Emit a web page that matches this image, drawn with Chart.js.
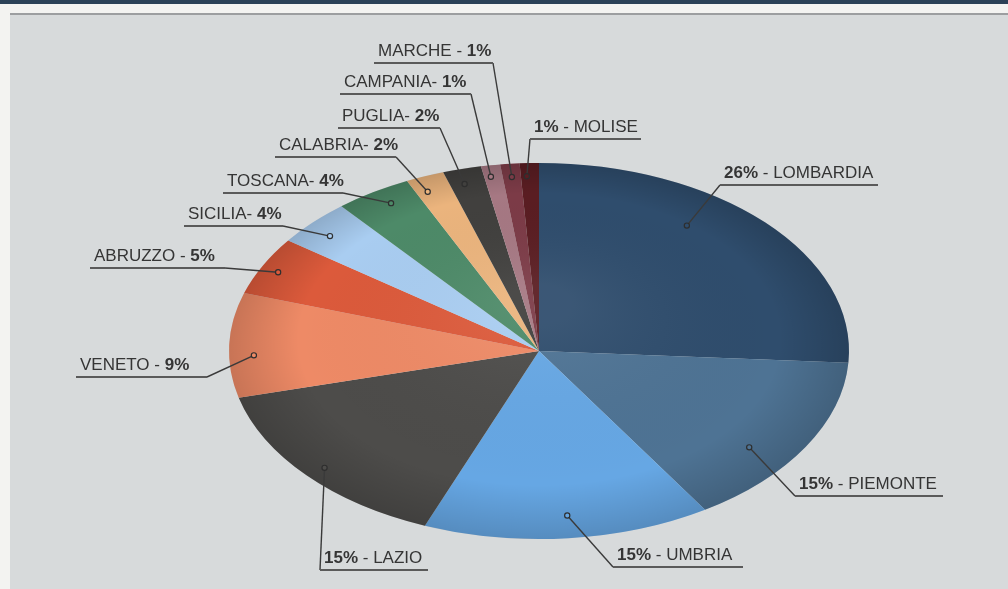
<!DOCTYPE html>
<html>
<head>
<meta charset="utf-8">
<script src="https://cdn.jsdelivr.net/npm/chart.js@4.4.1/dist/chart.umd.min.js"></script>
<style>
  html, body { margin: 0; padding: 0; background: #f3f3f1; }
  #wrap { position: relative; width: 1008px; height: 589px; overflow: hidden; background: #f3f3f1; }
  #topbar { position: absolute; left: 0; top: 0; width: 1008px; height: 4px; background: #2b4157; }
  #panel { position: absolute; left: 10px; top: 13px; right: 0; bottom: 0; background: #d7dadb; border-top: 2px solid #9c9ea0; }
  canvas { position: absolute; left: 0; top: 0; }
</style>
</head>
<body>
<div id="wrap">
  <div id="topbar"></div>
  <div id="panel"></div>
  <canvas id="pie" width="1008" height="589"></canvas>
</div>
<script>
// share of total by region (%)
const regions = ['LOMBARDIA', 'PIEMONTE', 'UMBRIA', 'LAZIO', 'VENETO', 'ABRUZZO', 'SICILIA',
                 'TOSCANA', 'CALABRIA', 'PUGLIA', 'CAMPANIA', 'MARCHE', 'MOLISE'];
const shares = [26, 15, 15, 15, 9, 5, 4, 4, 2, 2, 1, 1, 1];
const sliceColors = ['#2f4d6d', '#4e7394', '#66a7e4', '#4d4c4a', '#ee8a66', '#dc5a3b', '#a9cdf1',
                     '#4d8a68', '#ebb47d', '#41403e', '#a67883', '#7c3b47', '#5a1d22'];

// label placement: where the dot sits in the slice (t along the angle, r along the radius),
// the elbow where the leader meets the underline, the far end of the underline,
// whether the percentage comes first, and the separator used in the original
const labelLayout = [
  { t: 0.38, r: 0.82, ex: 720, ey: 185, ux: 878, pctFirst: true },
  { t: 0.62, r: 0.85, ex: 795, ey: 496, ux: 943, pctFirst: true },
  { t: 0.49, r: 0.88, ex: 613, ey: 567, ux: 743, pctFirst: true },
  { t: 0.49, r: 0.93, ex: 320, ey: 570, ux: 428, pctFirst: true },
  { t: 0.40, r: 0.92, ex: 207, ey: 377, ux: 76, sep: ' - ' },
  { t: 0.47, r: 0.94, ex: 225, ey: 268, ux: 90, sep: ' - ' },
  { t: 0.43, r: 0.91, ex: 283, ey: 226, ux: 184, sep: '- ' },
  { t: 0.58, r: 0.92, ex: 343, ey: 193, ux: 223, sep: '- ' },
  { t: 0.31, r: 0.92, ex: 396, ey: 157, ux: 275, sep: '- ' },
  { t: 0.40, r: 0.92, ex: 440, ey: 128, ux: 338, sep: '- ' },
  { t: 0.36, r: 0.94, ex: 471, ey: 94, ux: 340, sep: '- ' },
  { t: 0.50, r: 0.93, ex: 493, ey: 63, ux: 374, sep: ' - ' },
  { t: 0.33, r: 0.93, ex: 530, ey: 139, ux: 641, pctFirst: true }
];

const X_STRETCH = 310 / 188;   // the pie is drawn as a flattened ellipse
const FONT = '"Liberation Sans", Arial, Helvetica, sans-serif';

// squash the circle into an ellipse and add a little shading
const ellipsePlugin = {
  id: 'ellipse',
  beforeDatasetsDraw(chart) {
    const arc = chart.getDatasetMeta(0).data[0];
    const ctx = chart.ctx;
    ctx.save();
    ctx.translate(arc.x, arc.y);
    ctx.scale(X_STRETCH, 1);
    ctx.translate(-arc.x, -arc.y);
  },
  afterDatasetsDraw(chart) {
    const arc = chart.getDatasetMeta(0).data[0];
    const ctx = chart.ctx;
    const R = arc.outerRadius;
    ctx.save();
    ctx.beginPath();
    ctx.arc(arc.x, arc.y, R, 0, Math.PI * 2);
    ctx.clip();
    const g = ctx.createRadialGradient(arc.x, arc.y - R * 0.25, R * 0.1, arc.x, arc.y, R);
    g.addColorStop(0, 'rgba(255,255,255,0.06)');
    g.addColorStop(0.75, 'rgba(0,0,0,0)');
    g.addColorStop(1, 'rgba(0,0,0,0.16)');
    ctx.fillStyle = g;
    ctx.fillRect(arc.x - R, arc.y - R, R * 2, R * 2);
    ctx.restore();
    ctx.restore();
  }
};

// leader lines, dots and underlined labels
const labelPlugin = {
  id: 'leaders',
  afterDraw(chart) {
    const ctx = chart.ctx;
    const meta = chart.getDatasetMeta(0);
    meta.data.forEach((arc, i) => {
      const L = labelLayout[i];
      const a = arc.startAngle + L.t * (arc.endAngle - arc.startAngle);
      const px = arc.x + Math.cos(a) * arc.outerRadius * L.r * X_STRETCH;
      const py = arc.y + Math.sin(a) * arc.outerRadius * L.r;

      ctx.save();
      ctx.strokeStyle = '#3a3a3a';
      ctx.lineWidth = 1.4;
      ctx.beginPath();
      ctx.moveTo(px, py);
      ctx.lineTo(L.ex, L.ey);
      ctx.stroke();

      ctx.strokeStyle = '#5a5a5a';
      ctx.lineWidth = 2;
      ctx.beginPath();
      ctx.moveTo(L.ex, L.ey);
      ctx.lineTo(L.ux, L.ey);
      ctx.stroke();

      ctx.fillStyle = sliceColors[i];
      ctx.strokeStyle = '#2e2e2e';
      ctx.lineWidth = 1.2;
      ctx.beginPath();
      ctx.arc(px, py, 2.6, 0, Math.PI * 2);
      ctx.fill();
      ctx.stroke();

      const pct = shares[i] + '%';
      const parts = L.pctFirst
        ? [[pct, true], [' - ' + regions[i], false]]
        : [[regions[i] + L.sep, false], [pct, true]];
      let x = Math.min(L.ex, L.ux) + 4;
      const y = L.ey - 7;
      ctx.fillStyle = '#353535';
      ctx.textBaseline = 'alphabetic';
      ctx.textAlign = 'left';
      parts.forEach(([txt, bold]) => {
        ctx.font = (bold ? 'bold ' : '') + '17px ' + FONT;
        ctx.fillText(txt, x, y);
        x += ctx.measureText(txt).width;
      });
      ctx.restore();
    });
  }
};

new Chart(document.getElementById('pie'), {
  type: 'pie',
  data: {
    labels: regions,
    datasets: [{
      data: shares,
      backgroundColor: sliceColors,
      borderWidth: 0
    }]
  },
  options: {
    responsive: false,
    animation: false,
    events: [],
    layout: { padding: { top: 163, bottom: 50, left: 70, right: 0 } },
    plugins: {
      legend: { display: false },
      tooltip: { enabled: false }
    }
  },
  plugins: [ellipsePlugin, labelPlugin]
});
</script>
</body>
</html>
